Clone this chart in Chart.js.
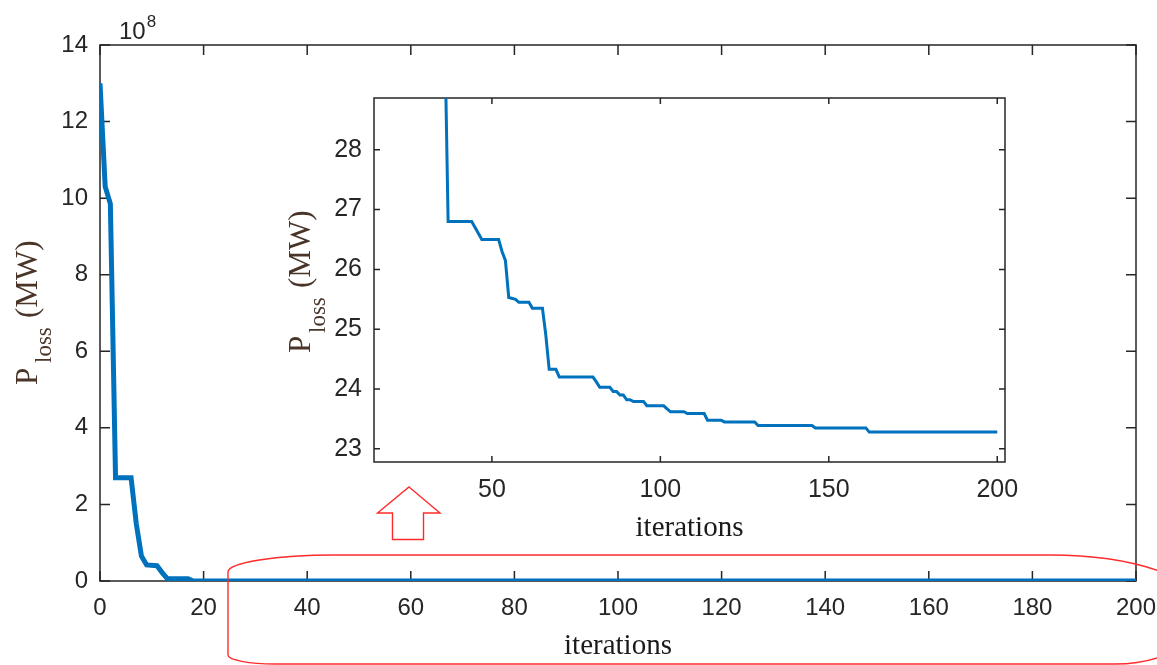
<!DOCTYPE html>
<html><head><meta charset="utf-8">
<script src="https://cdn.jsdelivr.net/npm/chart.js@4.4.1/dist/chart.umd.min.js"></script>
<style>
html,body{margin:0;padding:0;background:#fff;}
#wrap{position:relative;width:1157px;height:665px;overflow:hidden;background:#fff;}
#main{position:absolute;left:0;top:0;}
#inset{position:absolute;left:260px;top:80px;}
</style></head><body>
<div id="wrap"><canvas id="main" width="1157" height="665"></canvas><canvas id="inset" width="770" height="470"></canvas></div>
<script>
// iteration numbers where the best loss changes, and the loss (MW) at each
const iterations = [0,1,2,3,6,7,8,9,11,12,13,17,18,36,37,44,45,46,47,52,53,54,55,57,58,61,62,65,66,67,69,70,80,81,82,85,86,87,88,89,90,91,92,95,96,101,102,103,107,108,113,114,118,119,128,129,145,146,161,162,200];
const plossMW = [13.0e8,10.3e8,9.85e8,2.7e8,2.7e8,1.5e8,0.65e8,0.42e8,0.4e8,0.22e8,0.06e8,0.06e8,500,30,26.8,26.8,26.7,26.6,26.5,26.5,26.3,26.15,25.53,25.5,25.45,25.45,25.35,25.35,24.9,24.33,24.33,24.2,24.2,24.12,24.03,24.03,23.96,23.96,23.9,23.9,23.82,23.82,23.79,23.79,23.72,23.72,23.67,23.62,23.62,23.59,23.59,23.48,23.48,23.45,23.45,23.39,23.39,23.35,23.35,23.28,23.28];
const mainScale = 1e8;
const mainXTicks = [0,20,40,60,80,100,120,140,160,180,200];
const mainYTicks = [0,2,4,6,8,10,12,14];
const insetXTicks = [50,100,150,200];
const insetYTicks = [23,24,25,26,27,28];
const xTitle = 'iterations';

const SANS = "'Liberation Sans Narrow','Arial Narrow','Liberation Sans',Arial,sans-serif";
const SERIF = "'Liberation Serif','Times New Roman',serif";
const AX = '#262626';
const LBL = '#4a3428';

const frame = {
  id:'frame',
  beforeDatasetsDraw(chart, args, o){
    const {ctx, chartArea:a, scales:{x,y}} = chart;
    ctx.save();
    ctx.strokeStyle = AX; ctx.lineWidth = o.lw;
    ctx.strokeRect(a.left, a.top, a.right-a.left, a.bottom-a.top);
    ctx.beginPath();
    x.ticks.forEach(t=>{const p=x.getPixelForValue(t.value);
      ctx.moveTo(p,a.bottom); ctx.lineTo(p,a.bottom-o.len);
      ctx.moveTo(p,a.top); ctx.lineTo(p,a.top+o.len);});
    y.ticks.forEach(t=>{const p=y.getPixelForValue(t.value);
      ctx.moveTo(a.left,p); ctx.lineTo(a.left+o.len,p);
      ctx.moveTo(a.right,p); ctx.lineTo(a.right-o.len,p);});
    ctx.stroke();
    ctx.restore();
  }
};

function drawPloss(ctx, bx, by, o){
  ctx.save();
  ctx.translate(bx, by);
  ctx.rotate(-Math.PI/2);
  ctx.fillStyle = LBL; ctx.textAlign='left'; ctx.textBaseline='alphabetic';
  ctx.font = o.big+'px '+SERIF; ctx.fillText('P',0,0);
  ctx.font = o.small+'px '+SERIF; ctx.fillText('loss',o.subX,o.subDy);
  ctx.font = o.big+'px '+SERIF; ctx.fillText('(MW)',o.unitX,0);
  ctx.restore();
}

const mainDecor = {
  id:'mainDecor',
  afterDraw(chart){
    const ctx = chart.ctx;
    ctx.save();
    ctx.fillStyle = AX; ctx.textAlign='left'; ctx.textBaseline='alphabetic';
    ctx.font = '24px '+SANS; ctx.fillText('10',119,38.5);
    const w = ctx.measureText('10').width;
    ctx.font = '17px '+SANS; ctx.fillText('8',119+w+1,27);
    ctx.restore();
    drawPloss(ctx, 37, 385, {big:31, small:23, subX:22, subDy:14, unitX:67});
    // red annotation: rounded outline around the tail and an up arrow
    ctx.save();
    ctx.strokeStyle = '#ff2b2b'; ctx.lineWidth = 1.4;
    ctx.beginPath();
    ctx.moveTo(228,655);
    ctx.lineTo(228,572);
    ctx.ellipse(335,572,107,17,0,Math.PI,1.5*Math.PI);
    ctx.lineTo(1050,555);
    ctx.ellipse(1050,610,155,55,0,1.5*Math.PI,2*Math.PI);
    ctx.ellipse(1115,610,90,54,0,0,0.5*Math.PI);
    ctx.lineTo(275,664);
    ctx.ellipse(275,655,47,9,0,0.5*Math.PI,Math.PI);
    ctx.stroke();
    ctx.beginPath();
    ctx.moveTo(409,487); ctx.lineTo(440,513); ctx.lineTo(423.5,513); ctx.lineTo(423.5,539.5);
    ctx.lineTo(392.5,539.5); ctx.lineTo(392.5,513); ctx.lineTo(377.5,513); ctx.closePath();
    ctx.stroke();
    ctx.restore();
  }
};

const insetDecor = {
  id:'insetDecor',
  afterDraw(chart){
    drawPloss(chart.ctx, 50, 273, {big:31, small:23, subX:20, subDy:15, unitX:65});
  }
};

function tickFont(size){ return {family:SANS, size:size}; }
function fixX(h){ return s=>{ s.height = h; s.paddingLeft = 0; s.paddingRight = 0; }; }
function fixY(w){ return s=>{ s.width = w; s.paddingTop = 0; s.paddingBottom = 0; }; }

new Chart(document.getElementById('main'), {
  type:'line',
  data:{datasets:[{
    data: iterations.map((x,i)=>({x:x, y:plossMW[i]/mainScale})),
    borderColor:'#0072BD', borderWidth:5, pointRadius:0, fill:false, tension:0, borderJoinStyle:'miter'
  }]},
  options:{
    responsive:false, animation:false, devicePixelRatio:1,
    layout:{padding:{left:0, top:45, right:21, bottom:0}},
    plugins:{legend:{display:false}, tooltip:{enabled:false}, frame:{len:10, lw:1.5}},
    scales:{
      x:{type:'linear', min:0, max:200,
        grid:{display:false, drawTicks:false}, border:{display:false},
        afterBuildTicks:s=>{ s.ticks = mainXTicks.map(v=>({value:v})); },
        afterFit:fixX(84),
        ticks:{padding:13, font:tickFont(24), color:AX, maxRotation:0, autoSkip:false},
        title:{display:true, text:xTitle, font:{family:SERIF, size:29}, color:'#1a1a1a', padding:{top:0,bottom:1}}
      },
      y:{type:'linear', min:0, max:14,
        grid:{display:false, drawTicks:false}, border:{display:false},
        afterBuildTicks:s=>{ s.ticks = mainYTicks.map(v=>({value:v})); },
        afterFit:fixY(100),
        ticks:{padding:12, font:tickFont(24), color:AX, autoSkip:false}
      }
    }
  },
  plugins:[frame, mainDecor]
});

new Chart(document.getElementById('inset'), {
  type:'line',
  data:{datasets:[{
    data: iterations.map((x,i)=>({x:x, y:plossMW[i]})),
    borderColor:'#0072BD', borderWidth:3, pointRadius:0, fill:false, tension:0, borderJoinStyle:'miter'
  }]},
  options:{
    responsive:false, animation:false, devicePixelRatio:1,
    layout:{padding:{left:0, top:18, right:25, bottom:0}},
    plugins:{legend:{display:false}, tooltip:{enabled:false}, frame:{len:6, lw:1.5}},
    scales:{
      x:{type:'linear', min:15, max:202.3,
        grid:{display:false, drawTicks:false}, border:{display:false},
        afterBuildTicks:s=>{ s.ticks = insetXTicks.map(v=>({value:v})); },
        afterFit:fixX(88),
        ticks:{padding:13, font:tickFont(25), color:AX, maxRotation:0, autoSkip:false},
        title:{display:true, text:xTitle, font:{family:SERIF, size:29}, color:'#1a1a1a', padding:{top:0,bottom:4}}
      },
      y:{type:'linear', min:22.78, max:28.865,
        grid:{display:false, drawTicks:false}, border:{display:false},
        afterBuildTicks:s=>{ s.ticks = insetYTicks.map(v=>({value:v})); },
        afterFit:fixY(114),
        ticks:{padding:12, font:tickFont(25), color:AX, autoSkip:false}
      }
    }
  },
  plugins:[frame, insetDecor]
});
</script>
</body></html>
